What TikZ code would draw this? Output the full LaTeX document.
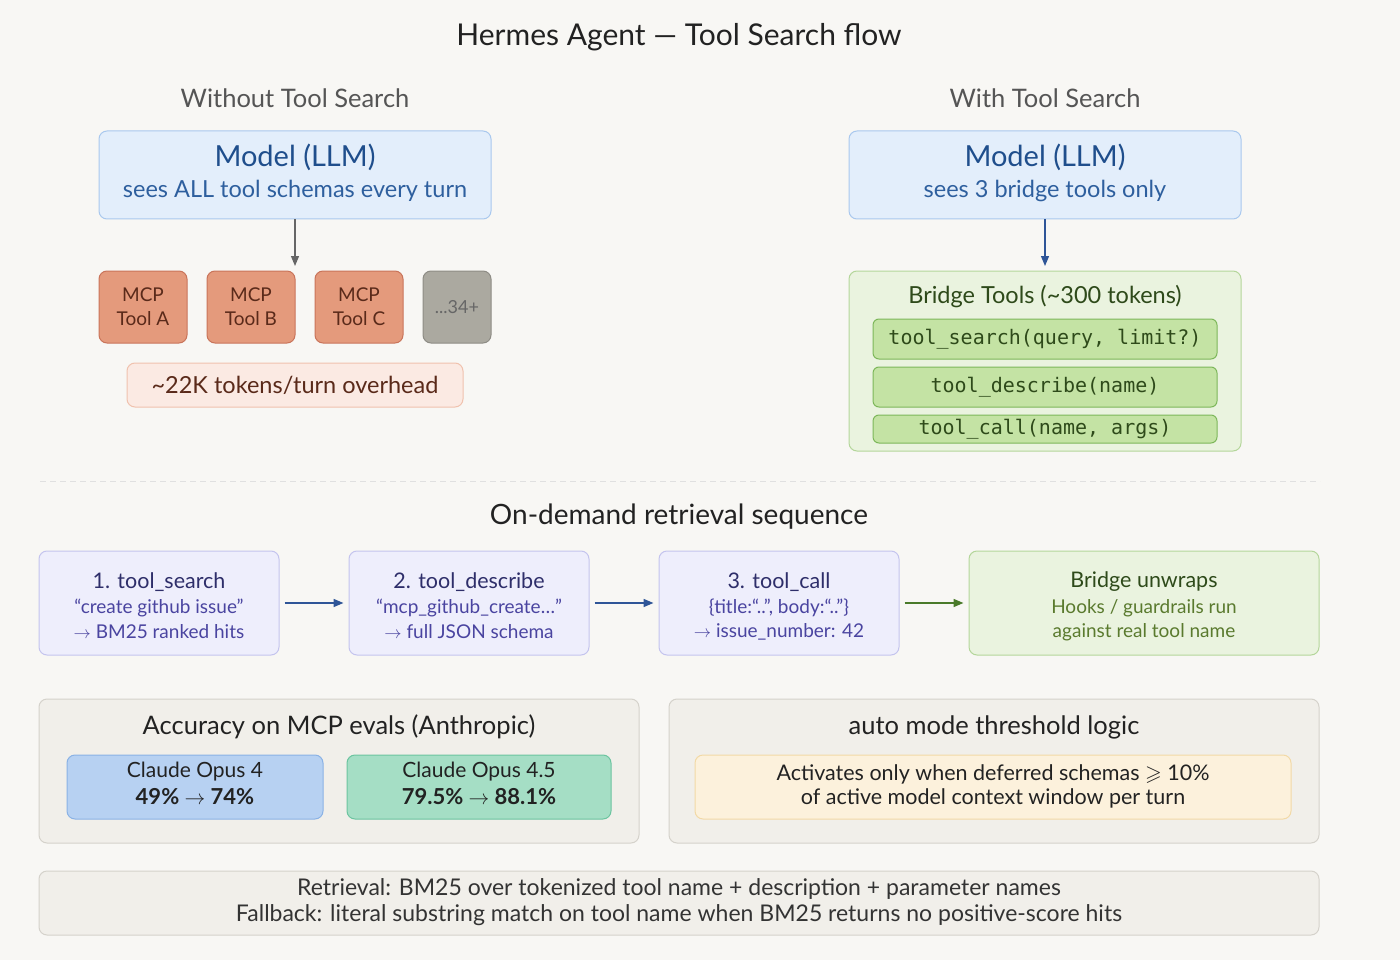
\documentclass[tikz,border=0pt]{standalone}
\usepackage{fontspec}
\setmainfont{Lato}
\newfontfamily\monof{DejaVu Sans Mono}
\usepackage{amssymb}
\usetikzlibrary{arrows.meta}
\definecolor{bg}{HTML}{F8F7F4}
\definecolor{blF}{HTML}{E3EEFB}\definecolor{blD}{HTML}{A9C8EE}\definecolor{blT}{HTML}{1F4E8C}\definecolor{blS}{HTML}{2E5F9E}
\definecolor{orF}{HTML}{E49A7C}\definecolor{orD}{HTML}{C9745A}\definecolor{orT}{HTML}{5A2A1A}
\definecolor{gyF}{HTML}{ABA9A0}\definecolor{gyD}{HTML}{8E8C85}
\definecolor{pkF}{HTML}{FBEAE3}\definecolor{pkD}{HTML}{F0C2AE}
\definecolor{grF}{HTML}{EAF3DF}\definecolor{grD}{HTML}{B4D69A}\definecolor{grT}{HTML}{2E4A1A}\definecolor{grS}{HTML}{5A7A2E}
\definecolor{piF}{HTML}{C4E3A4}\definecolor{piD}{HTML}{7DB75A}
\definecolor{vF}{HTML}{EEEEFC}\definecolor{vD}{HTML}{C4C4EE}\definecolor{vT}{HTML}{2E2E6A}\definecolor{vS}{HTML}{4A44A0}
\definecolor{nF}{HTML}{F1EFEA}\definecolor{nD}{HTML}{D5D2CB}
\definecolor{c4F}{HTML}{B7D1F2}\definecolor{c4D}{HTML}{8AB2E5}
\definecolor{c5F}{HTML}{A5DEC5}\definecolor{c5D}{HTML}{6CC4A0}
\definecolor{yF}{HTML}{FCF1DC}\definecolor{yD}{HTML}{F2D9A6}
\definecolor{arB}{HTML}{2F5597}\definecolor{arG}{HTML}{4A7A2A}
\definecolor{txt}{HTML}{222222}\definecolor{sub}{HTML}{555555}
\tikzset{
 box/.style={draw, rounded corners=8pt, line width=1pt, inner sep=0pt},
 fs/.style={font=\fontsize{#1}{#1}\selectfont},
 arr/.style={-{Triangle[length=10pt,width=8pt]}, line width=1.5pt},
 seq/.style={box,fill=vF,draw=vD,minimum width=240pt,minimum height=104pt},
}
\begin{document}
\begin{tikzpicture}[x=1pt,y=-1pt]
\fill[bg] (0,0) rectangle (1400,960);
\useasboundingbox (0,0) rectangle (1400,960);
\node[fs=30,text=txt] (title) at (679,37) {Hermes Agent — Tool Search flow};
\node[fs=25.5,text=sub] (lefth) at (295,98) {Without Tool Search};
\node[fs=25.5,text=sub] (righth) at (1045,98) {With Tool Search};
% models
\node[box,fill=blF,draw=blD,minimum width=392pt,minimum height=88pt] (mL) at (295,175) {};
\node[fs=29,text=blT] (mLt) at (295,157) {Model (LLM)};
\node[fs=23.5,text=blS] (mLs) at (295,191) {sees ALL tool schemas every turn};
\node[box,fill=blF,draw=blD,minimum width=392pt,minimum height=88pt] (mR) at (1045,175) {};
\node[fs=29,text=blT] (mRt) at (1045,157) {Model (LLM)};
\node[fs=23.5,text=blS] (mRs) at (1045,191) {sees 3 bridge tools only};
% MCP tools
\foreach \n/\x/\l in {a/143/A,b/251/B,c/359/C}{
 \node[box,fill=orF,draw=orD,minimum width=88pt,minimum height=72pt,fs=19,text=orT,align=center] (t\n) at (\x,307) {MCP\\[5pt]Tool \l};
}
\node[box,fill=gyF,draw=gyD,minimum width=68pt,minimum height=72pt,fs=18,text=black!60] (tmore) at (457,307) {...34+};
\node[box,fill=pkF,draw=pkD,minimum width=336pt,minimum height=44pt,fs=23.5,text=orT] (over) at (295,385) {\textasciitilde22K tokens/turn overhead};
\coordinate (aL) at (295,266);
\draw[arr,color=gray!80!black,line width=1.2pt] (mL.south) -- (aL);
% bridge
\node[box,fill=grF,draw=grD,minimum width=392pt,minimum height=180pt] (br) at (1045,361) {};
\node[fs=23.5,text=grT] (brt) at (1045,297) {Bridge Tools (\textasciitilde300 tokens)};
\node[box,fill=piF,draw=piD,minimum width=344pt,minimum height=40pt,fs=20,text=grT,rounded corners=6pt] (p1) at (1045,339) {\monof tool\_search(query, limit?)};
\node[box,fill=piF,draw=piD,minimum width=344pt,minimum height=40pt,fs=20,text=grT,rounded corners=6pt] (p2) at (1045,387) {\monof tool\_describe(name)};
\node[box,fill=piF,draw=piD,minimum width=344pt,minimum height=28pt,fs=20,text=grT,rounded corners=6pt] (p3) at (1045,429) {\monof tool\_call(name, args)};
\coordinate (aR) at (1045,266);
\draw[arr,color=arB,line width=1.2pt] (mR.south) -- (aR);
% divider
\coordinate (d1) at (40,481); \coordinate (d2) at (1320,481);
\draw[color=black!12,line width=1pt,dash pattern=on 6pt off 4pt] (d1) -- (d2);
\node[fs=28,text=txt] (seqh) at (679,517) {On-demand retrieval sequence};
% sequence
\node[seq] (s1) at (159,603) {};
\node[fs=21.5,text=vT] (s1t) at (159,582) {1. tool\_search};
\node[fs=19,text=vS] (s1a) at (159,608) {“create github issue”};
\node[fs=19,text=vS] (s1b) at (159,632) {$\to$ BM25 ranked hits};
\node[seq] (s2) at (469,603) {};
\node[fs=21.5,text=vT] (s2t) at (469,582) {2. tool\_describe};
\node[fs=19,text=vS] (s2a) at (469,608) {“mcp\_github\_create…”};
\node[fs=19,text=vS] (s2b) at (469,632) {$\to$ full JSON schema};
\node[seq] (s3) at (779,603) {};
\node[fs=21.5,text=vT] (s3t) at (779,582) {3. tool\_call};
\node[fs=19,text=vS] (s3a) at (779,608) {\{title:“..”, body:“..”\}};
\node[fs=19,text=vS] (s3b) at (779,632) {$\to$ issue\_number: 42};
\node[box,fill=grF,draw=grD,minimum width=350pt,minimum height=104pt] (s4) at (1144,603) {};
\node[fs=21.5,text=grT] (s4t) at (1144,582) {Bridge unwraps};
\node[fs=19,text=grS] (s4a) at (1144,608) {Hooks / guardrails run};
\node[fs=19,text=grS] (s4b) at (1144,632) {against real tool name};
\draw[arr,color=arB] ([xshift=5pt]s1.east) -- ([xshift=-5pt]s2.west);
\draw[arr,color=arB] ([xshift=5pt]s2.east) -- ([xshift=-5pt]s3.west);
\draw[arr,color=arG] ([xshift=5pt]s3.east) -- ([xshift=-5pt]s4.west);
% accuracy
\node[box,fill=nF,draw=nD,minimum width=600pt,minimum height=144pt] (acc) at (339,771) {};
\node[fs=25.5,text=txt] (acct) at (339,727) {Accuracy on MCP evals (Anthropic)};
\node[box,fill=c4F,draw=c4D,minimum width=256pt,minimum height=64pt] (c4) at (195,787) {};
\node[fs=21,text=txt] (c4a) at (195,772) {Claude Opus 4};
\node[fs=22,text=txt] (c4b) at (195,797) {\bfseries 49\% $\to$ 74\%};
\node[box,fill=c5F,draw=c5D,minimum width=264pt,minimum height=64pt] (c5) at (479,787) {};
\node[fs=21,text=txt] (c5a) at (479,772) {Claude Opus 4.5};
\node[fs=22,text=txt] (c5b) at (479,797) {\bfseries 79.5\% $\to$ 88.1\%};
% auto
\node[box,fill=nF,draw=nD,minimum width=650pt,minimum height=144pt] (auto) at (994,771) {};
\node[fs=25.5,text=txt] (autot) at (994,727) {auto mode threshold logic};
\node[box,fill=yF,draw=yD,minimum width=596pt,minimum height=64pt] (au) at (993,787) {};
\node[fs=21.5,text=txt] (aua) at (993,774) {Activates only when deferred schemas $\geqslant$ 10\%};
\node[fs=21.5,text=txt] (aub) at (993,798) {of active model context window per turn};
% bottom
\node[box,fill=nF,draw=nD,minimum width=1280pt,minimum height=64pt] (bot) at (679,903) {};
\node[fs=23,text=black!80] (bota) at (679,889) {Retrieval: BM25 over tokenized tool name + description + parameter names};
\node[fs=23,text=black!80] (botb) at (679,915) {Fallback: literal substring match on tool name when BM25 returns no positive-score hits};
\end{tikzpicture}
\end{document}
